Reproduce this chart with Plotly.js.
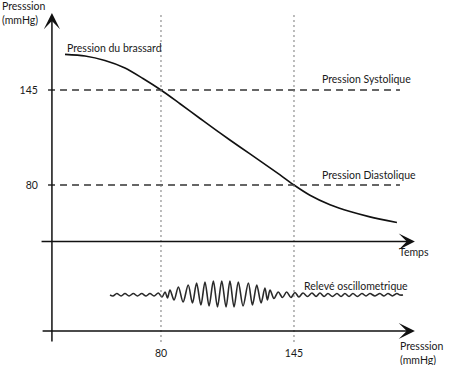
<!DOCTYPE html>
<html>
<head>
<meta charset="utf-8">
<script src="https://cdn.plot.ly/plotly-3.0.1.min.js"></script>
<style>html,body{margin:0;padding:0;background:#fff;}#chart{width:457px;height:365px;}</style>
</head>
<body>
<div id="chart"></div>
<script>
// Cuff pressure curve (x: pressure/time scale, y: mmHg)
const curveX = [33.1, 42.9, 52.6, 62.4, 71.2, 80, 89.3, 99.1, 108.8, 118.6, 128.4, 138.2, 145, 152.8, 162.6, 172.4, 182.1, 195.3];
const curveY = [169.4, 168.3, 165.2, 160.1, 152.9, 145, 135.6, 125.5, 115.6, 106.0, 96.5, 86.9, 80, 73.0, 66.5, 61.8, 58.2, 54.3];

// Oscillometric record (x on same scale, amplitude arbitrary units)
const oscX = [55.1, 56.5, 58.4, 60.5, 62.4, 64.4, 66.5, 68.5, 70.6, 72.7, 74.6, 76.6, 78.7, 80.5, 82.0, 83.2,
  84.4, 86.4, 88.5, 90.8, 93.3, 95.4, 97.4, 99.5, 101.5, 103.5, 105.6, 107.6, 109.7, 111.8, 113.7, 115.7,
  117.8, 120.1, 122.7, 124.7, 126.8, 128.9, 130.8, 132.0, 133.3, 135.2, 137.3, 139.4, 141.4, 143.5, 145.5,
  147.4, 149.4, 151.6, 153.8, 155.8, 157.7, 159.7, 161.6, 163.8, 166.0, 168.0, 169.9, 171.9, 173.8, 176.0,
  178.2, 180.2, 182.1, 184.6, 187.0, 189.0, 190.9, 193.1, 195.3, 196.8, 198.3];
const oscY = [0, -1, 1.5, -1, 1.5, -1, 1.5, -1, 1.5, -1, 1.5, -1, 2, -2, 3, -3,
  5, -5, 8, -7, 10, -8, 12, -10, 13, -11, 14, -12, 14, -12, 14, -12,
  13, -11, 12, -10, 10, -8, 7, -5, 5, -3.5, 3, -2.5, 3, -2.5, 2.5,
  -2, 2, -1.5, 2, -1.5, 2, -1.5, 1.5, -1.5, 1.5, -1.5, 1.5, -1.5, 1.5, -1.5,
  1.5, -1, 1.5, -1, 1.5, -1, 1.5, -1, 1.5, 0, 0];

// Reference levels and tick labels
const levels = [145, 80];
const levelNames = ["Pression Systolique", "Pression Diastolique"];
const xTicks = [80, 145];

const W = 457, H = 365;
const px = v => v / W;
const py = v => 1 - v / H;
const FONT = {family: "Lato, 'Open Sans', sans-serif", size: 10.5, color: "#1a1a1a"};

const traces = [
  {x: curveX, y: curveY, type: "scatter", mode: "lines", line: {color: "#111", width: 1.6, shape: "spline", smoothing: 0.8}, hoverinfo: "skip"},
  {x: oscX, y: oscY, yaxis: "y2", type: "scatter", mode: "lines", line: {color: "#2a2a2a", width: 1.6, shape: "spline", smoothing: 0.9}, hoverinfo: "skip"}
];

// axis extents (data units)
const xL = 20.9, xR = 204.1, xAx = 26.7, yTop = 197.7, yBot = -28.1, yTemps = 41.3, yPress = -19.9;

const shapes = [];
levels.forEach(l => shapes.push({type: "line", xref: "x", yref: "y", x0: 24.8, x1: 196.8, y0: l, y1: l,
  line: {color: "#333", width: 1.5, dash: "7px,5px"}}));
xTicks.forEach(t => shapes.push({type: "line", xref: "x", yref: "y", x0: t, x1: t, y0: 196.3, y1: yBot,
  line: {color: "#777", width: 1, dash: "2px,3px"}}));

const arrow = (x, y, ax, ay) => ({x: x, y: y, ax: ax, ay: ay, xref: "x", yref: "y", axref: "x", ayref: "y",
  text: "", showarrow: true, arrowhead: 3, arrowsize: 1.8, arrowwidth: 1.5, arrowcolor: "#111", standoff: 0});

const label = (text, x, y) => ({text: text, x: px(x), y: py(y), xref: "paper", yref: "paper",
  xanchor: "left", yanchor: "middle", align: "left", showarrow: false, font: FONT});

const annotations = [
  arrow(xAx, yTop, xAx, yBot),
  arrow(xR, yTemps, xL, yTemps),
  arrow(xR, yPress, 21.4, yPress),
  label("Presssion<br>(mmHg)", 0, 13),
  label("Pression du brassard", 65, 48),
  label(levelNames[0], 320, 79.5),
  label(levelNames[1], 320, 175),
  label("Temps", 397, 252),
  label("Relevé oscillometrique", 302, 285.5),
  label("Presssion<br>(mmHg)", 398, 353)
];

const layout = {
  width: W, height: H,
  margin: {l: 0, r: 0, t: 0, b: 0},
  paper_bgcolor: "#fff", plot_bgcolor: "#fff",
  showlegend: false,
  font: FONT,
  xaxis: {range: [1.32, 224.67], anchor: "free", position: 34 / 365, showgrid: false, zeroline: false, showline: false,
    tickvals: xTicks, ticktext: xTicks.map(String), ticks: "outside", ticklen: 12, tickcolor: "rgba(0,0,0,0)", tickfont: FONT, fixedrange: true},
  yaxis: {range: [-43.16, 206.58], anchor: "free", position: 52 / 457, showgrid: false, zeroline: false, showline: false,
    tickvals: levels, ticktext: levels.map(String), ticks: "outside", ticklen: 12, tickcolor: "rgba(0,0,0,0)", tickfont: FONT, fixedrange: true},
  yaxis2: {range: [-70, 295], overlaying: "y", visible: false, fixedrange: true},
  shapes: shapes,
  annotations: annotations
};

Plotly.newPlot("chart", traces, layout, {staticPlot: true, displayModeBar: false});
</script>
</body>
</html>
